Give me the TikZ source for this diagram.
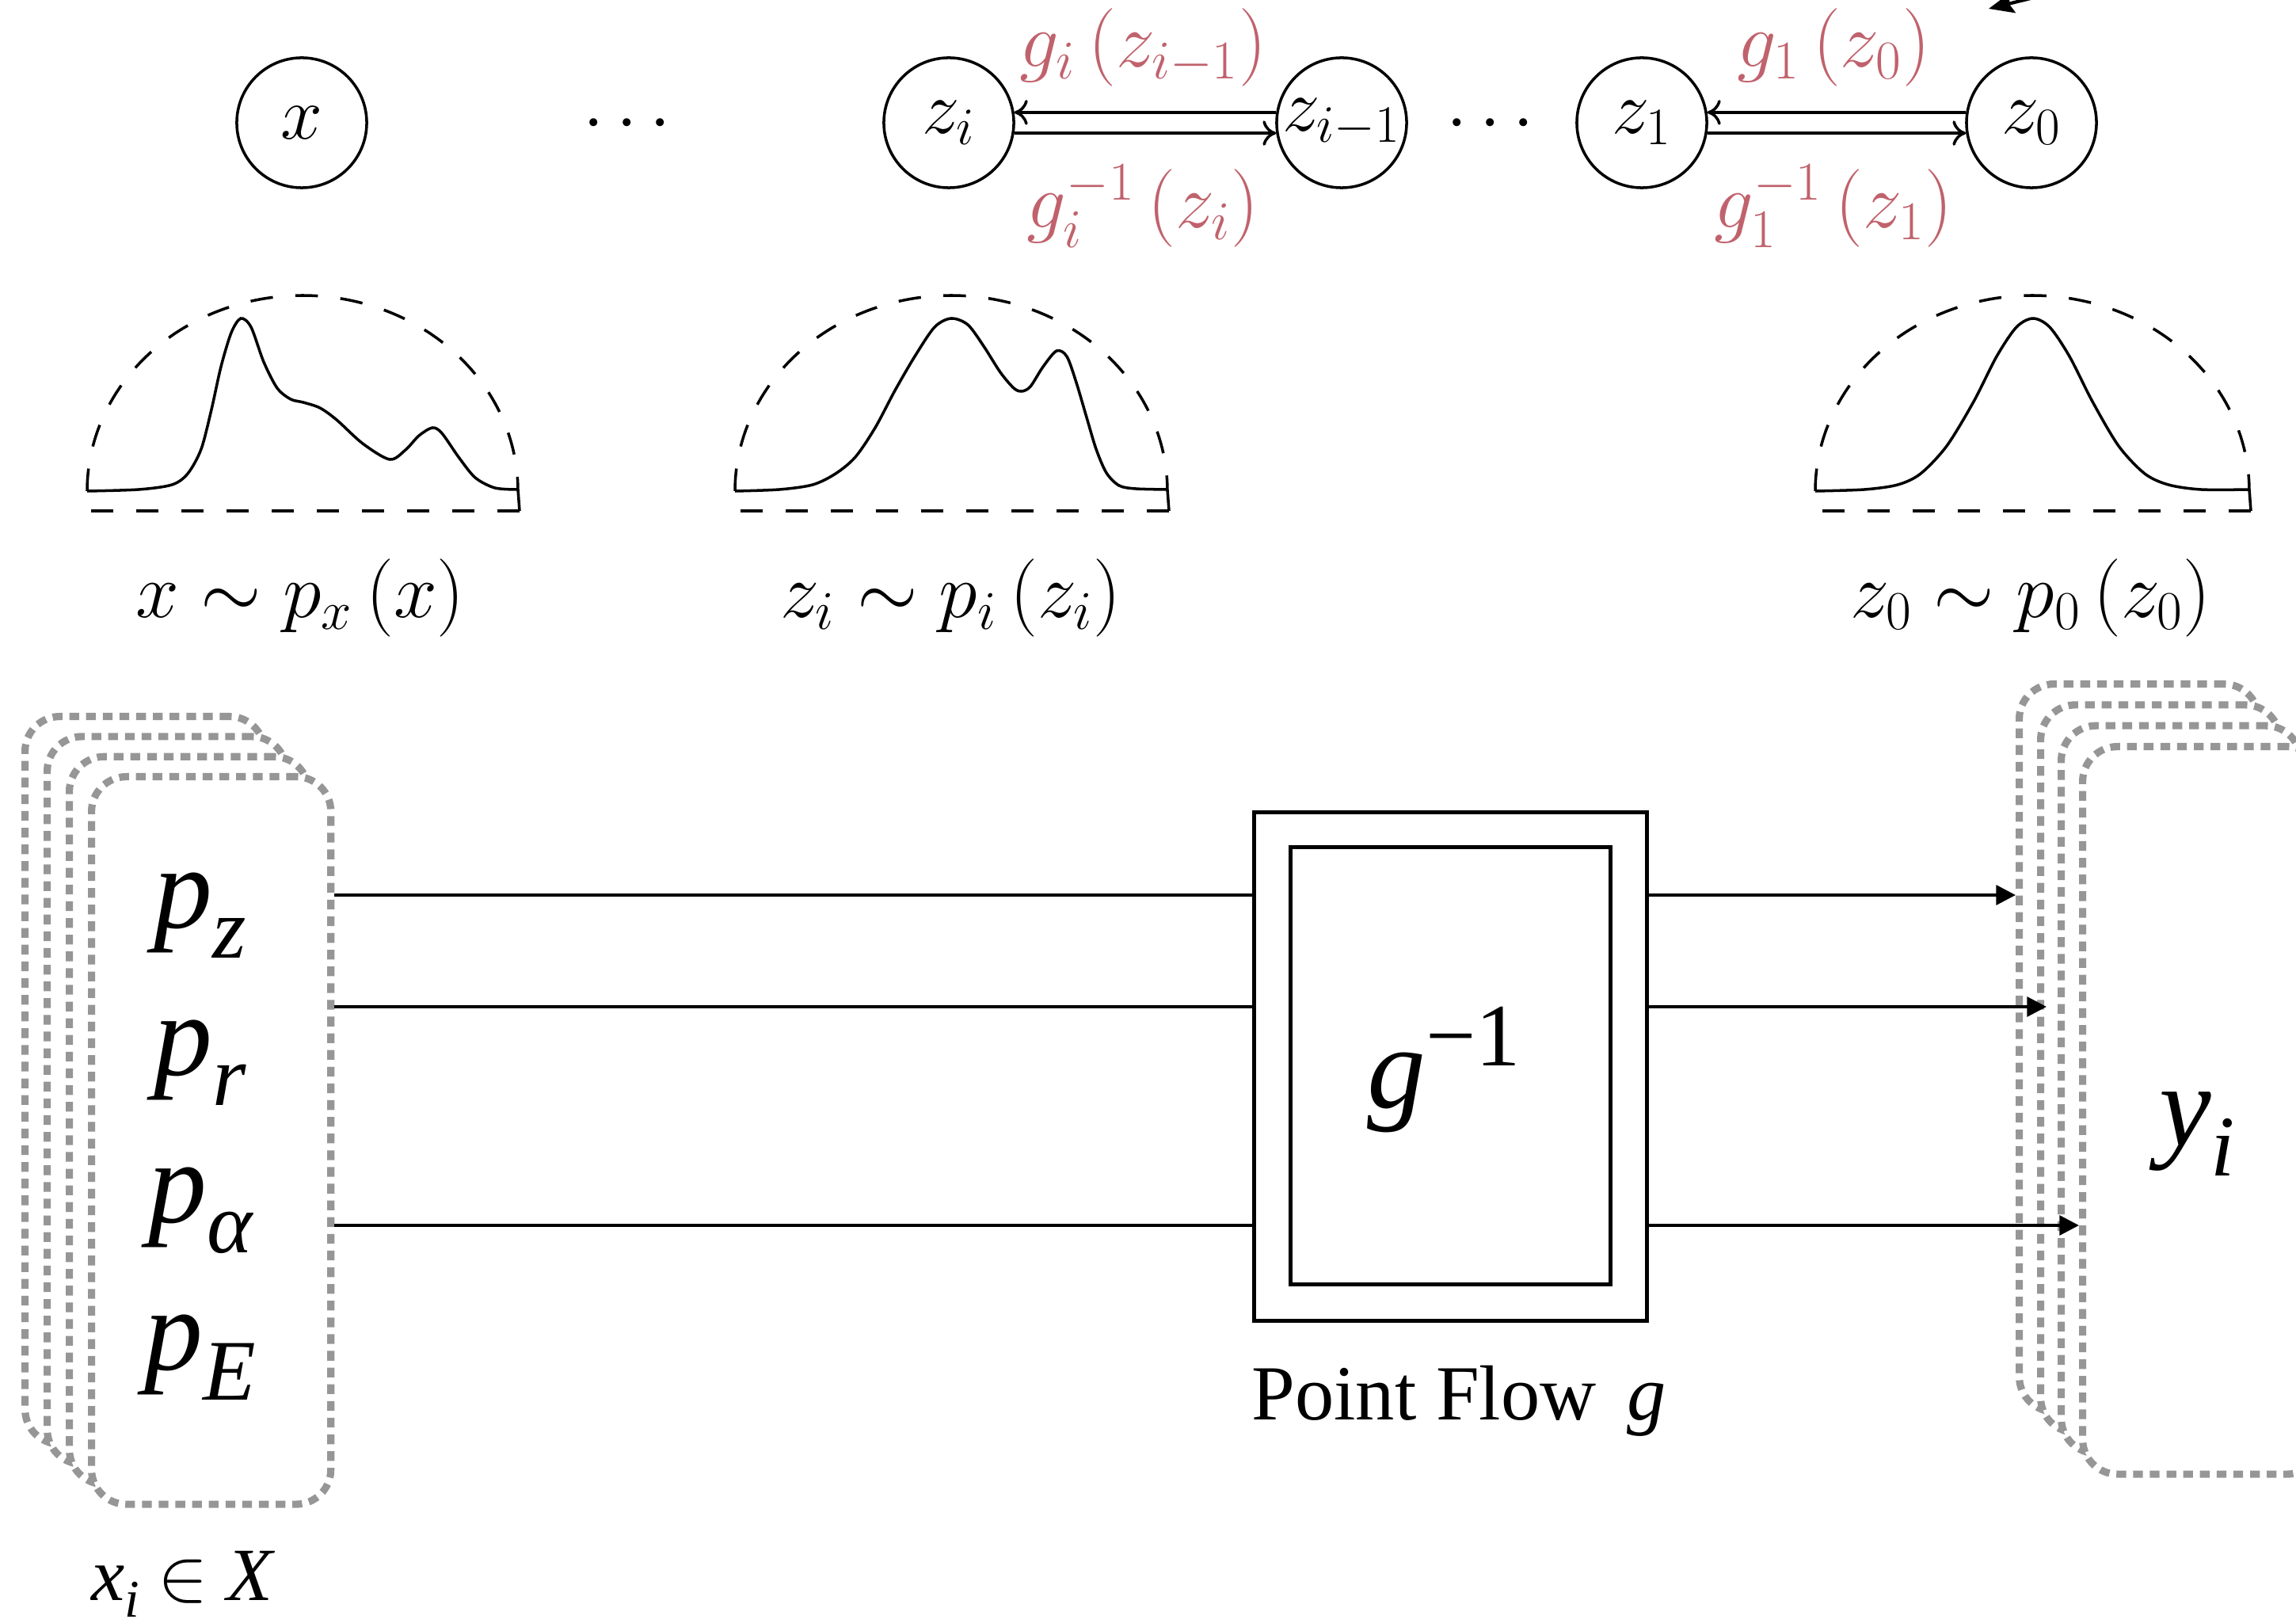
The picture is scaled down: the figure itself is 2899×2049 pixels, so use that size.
\RequirePackage{fix-cm}
\documentclass[tikz,border=0pt]{standalone}
\usepackage{fontspec}
\newfontfamily\tms{Liberation Serif}
\usetikzlibrary{arrows.meta,calc}
\definecolor{flowred}{RGB}{192,98,108}
\definecolor{stackgray}{RGB}{150,150,150}
\newcommand\bigit{\tms\itshape\fontsize{42}{42}\selectfont}
\newcommand\lowsub[1]{\raisebox{-11pt}{\fontsize{31}{31}\selectfont #1}}
\begin{document}
\begin{tikzpicture}[x=0.01cm,y=-0.01cm,
  circ/.style={circle,draw,line width=1pt,minimum size=1.64cm,inner sep=0pt},
  mathlbl/.style={font=\fontsize{27}{32}\selectfont,inner sep=0pt},
  caplbl/.style={font=\fontsize{28}{33}\selectfont,inner sep=0pt,anchor=base},
  redlbl/.style={caplbl,text=flowred},
  dens/.style={line width=1pt},
  dashpat/.style={line width=1pt,dash pattern=on 8.1pt off 8.1pt},
  stackbox/.style={draw=stackgray,fill=white,line width=2.6pt,dash pattern=on 3.5pt off 2.5pt,rounded corners=12.5pt,minimum width=3.02cm,minimum height=9.18cm,inner sep=0pt,anchor=north west},
  flowbox/.style={draw,line width=1.3pt,inner sep=0pt,anchor=north west},
  flowline/.style={line width=1.2pt},
  flowarrow/.style={line width=1.2pt,-{Triangle[length=7pt,width=7pt]}},
  biarrow/.style={line width=1pt,-{Computer Modern Rightarrow[length=4.8pt,width=9pt]}},
]
\useasboundingbox (0,0) rectangle (2899,2049);
\clip (0,0) rectangle (2899,2049);

% ---------- top chain ----------
\node[circ] (nx) at (381,155) {};
\node[mathlbl] (nxt) at (nx) {$x$};
\node[mathlbl,anchor=base] (d1) at (792,179) {$\cdots$};
\node[circ] (zi) at (1198,155) {};
\node[mathlbl] (zit) at (zi) {$z_i$};
\node[circ] (zim) at (1694,155) {};
\node[mathlbl] (zimt) at (zim) {$z_{i-1}$};
\node[mathlbl,anchor=base] (d2) at (1882,179) {$\cdots$};
\node[circ] (z1) at (2073,155) {};
\node[mathlbl] (z1t) at (z1) {$z_1$};
\node[circ] (z0) at (2565,155) {};
\node[mathlbl] (z0t) at (z0) {$z_0$};

\draw[biarrow] (zim.171) -- (zi.9);
\draw[biarrow] (zi.-9) -- (zim.189);
\draw[biarrow] (z0.171) -- (z1.9);
\draw[biarrow] (z1.-9) -- (z0.189);

\node[redlbl] (l1) at (1443,85) {$g_i\left(z_{i-1}\right)$};
\node[redlbl] (l2) at (1443,288) {$g_i^{-1}\left(z_i\right)$};
\node[redlbl] (l3) at (2315,85) {$g_1\left(z_0\right)$};
\node[redlbl] (l4) at (2315,288) {$g_1^{-1}\left(z_1\right)$};

% ---------- densities ----------
% x
\draw[dashpat] plot[domain=180:0,samples=90,smooth] ({382+272*cos(\x)},{620-247*sin(\x)});
\draw[dens] (654,618) -- (656,645);
\draw[dashpat] (656,645) -- (112,645);
\draw[dens] plot[smooth] coordinates {(110,620) (175,618) (217,612) (237,598) (254,567) (267,517) (279,463) (292,420) (304,402) (317,413) (333,457) (350,490) (367,504) (383,508) (404,515) (425,530) (458,560) (492,580) (512,568) (529,550) (546,540) (558,547) (579,577) (600,603) (625,616) (654,618)};
\node[caplbl] (lx) at (379,780) {$x\sim p_x\left(x\right)$};
% z_i
\draw[dashpat] plot[domain=180:0,samples=90,smooth] ({1201+273*cos(\x)},{620-247*sin(\x)});
\draw[dens] (1474,618) -- (1476,645);
\draw[dashpat] (1476,645) -- (930,645);
\draw[dens] plot[smooth] coordinates {(928,620) (984,618) (1026,612) (1055,598) (1080,577) (1105,540) (1130,493) (1155,450) (1180,413) (1201,402) (1222,410) (1242,437) (1263,470) (1280,490) (1290,494) (1301,488) (1317,463) (1334,443) (1347,450) (1359,483) (1372,527) (1384,567) (1397,597) (1413,613) (1434,617) (1474,618)};
\node[caplbl] (lzi) at (1200,780) {$z_i\sim p_i\left(z_i\right)$};
% z_0
\draw[dashpat] plot[domain=180:0,samples=90,smooth] ({2566+274*cos(\x)},{620-247*sin(\x)});
\draw[dens] (2840,618) -- (2842,645);
\draw[dashpat] (2842,645) -- (2294,645);
\draw[dens] plot[smooth] coordinates {(2292,620) (2354,618) (2396,612) (2425,598) (2458,563) (2492,507) (2521,450) (2546,413) (2567,402) (2588,413) (2613,450) (2642,507) (2675,563) (2708,598) (2738,612) (2779,618) (2840,618)};
\node[caplbl] (lz0) at (2564,780) {$z_0\sim p_0\left(z_0\right)$};

% ---------- bottom: stacks ----------
\node[stackbox] (L0) at (27,900) {};
\node[stackbox] (L1) at (55,925.3) {};
\node[stackbox] (L2) at (83,950.7) {};
\node[stackbox] (L3) at (111,976) {};
\node[stackbox] (R0) at (2545,859) {};
\node[stackbox] (R1) at (2572,885.3) {};
\node[stackbox] (R2) at (2598,911.6) {};
\node[stackbox] (R3) at (2625,938) {};

\node[anchor=base] (pz) at (253,1171) {\bigit p\lowsub{z}};
\node[anchor=base] (pr) at (253,1357) {\bigit p\lowsub{r}};
\node[anchor=base] (pa) at (253,1543) {\bigit p\lowsub{α}};
\node[anchor=base] (pe) at (253,1729) {\bigit p\lowsub{E}};
\node[anchor=base] (xin) at (230,2020) {\tms\itshape\fontsize{27}{27}\selectfont x\raisebox{-6pt}{\fontsize{19}{19}\selectfont i} $\in$ X};

\node[anchor=base] (yi) at (2774,1446) {\bigit y\lowsub{i}};

% ---------- flow box ----------
\node[flowbox,minimum width=4.96cm,minimum height=6.42cm] (G) at (1581,1023) {};
\node[flowbox,minimum width=4.04cm,minimum height=5.52cm] (Gi) at (1627,1067) {};
\node[anchor=base] (ginv) at (1823,1398) {\bigit g\raisebox{15pt}{\upshape\fontsize{32}{32}\selectfont −1}};
\node[anchor=base west] (pflow) at (1568,1792) {\tms\fontsize{28}{28}\selectfont Point Flow\hspace{4pt} \textit{g}};

\coordinate (r1) at (0,1130);
\coordinate (r2) at (0,1271);
\coordinate (r3) at (0,1547);
\draw[flowline] (L3.east |- r1) -- (G.west |- r1);
\draw[flowline] (L3.east |- r2) -- (G.west |- r2);
\draw[flowline] (L3.east |- r3) -- (G.west |- r3);
\draw[flowarrow] (G.east |- r1) -- (R0.west |- r1);
\draw[flowarrow] (G.east |- r2) -- ($(R1.west |- r2)+(12,0)$);
\draw[flowarrow] (G.east |- r3) -- (R3.west |- r3);

% ---------- arrow fragment at top right ----------
\coordinate (trs) at (2657,-25);
\coordinate (trt) at (2511,11);
\draw[line width=1.2pt,-{Stealth[length=9pt,width=7.5pt,inset=1.5pt]}] (trs) -- (trt);
\end{tikzpicture}
\end{document}
